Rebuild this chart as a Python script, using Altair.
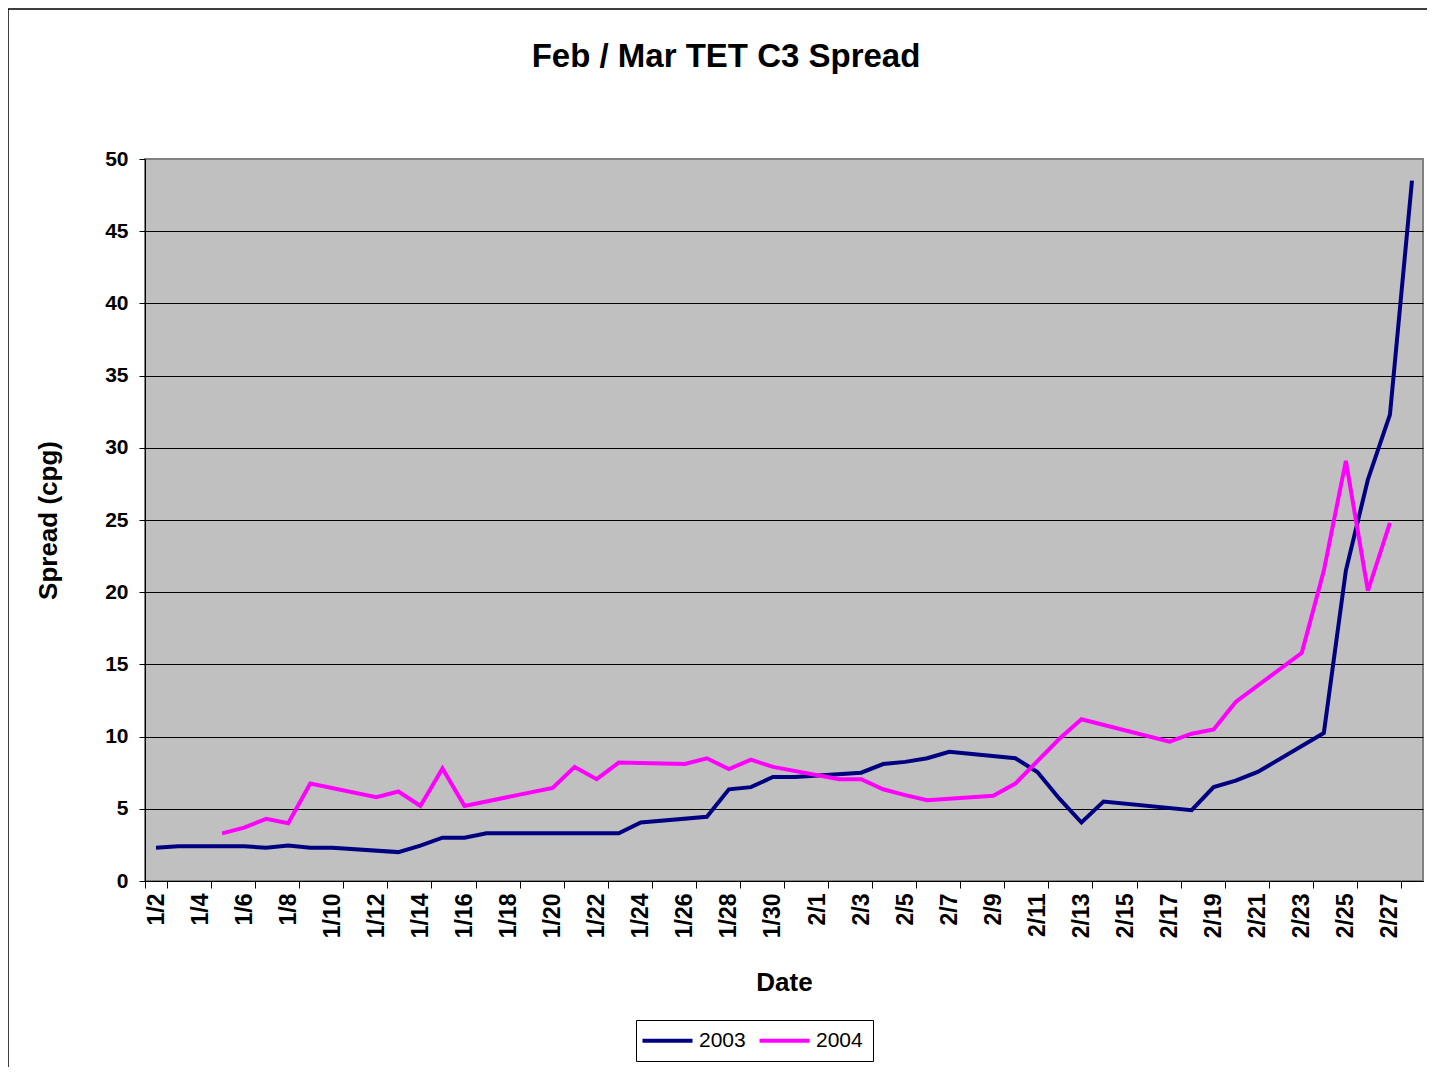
import altair as alt
import pandas as pd

# Category axis: every calendar day shown on the Excel date axis
categories = [
    "1/2", "1/3", "1/4", "1/5", "1/6", "1/7", "1/8", "1/9", "1/10", "1/11",
    "1/12", "1/13", "1/14", "1/15", "1/16", "1/17", "1/18", "1/19", "1/20", "1/21",
    "1/22", "1/23", "1/24", "1/25", "1/26", "1/27", "1/28", "1/29", "1/30", "1/31",
    "2/1", "2/2", "2/3", "2/4", "2/5", "2/6", "2/7", "2/8", "2/9", "2/10",
    "2/11", "2/12", "2/13", "2/14", "2/15", "2/16", "2/17", "2/18", "2/19", "2/20",
    "2/21", "2/22", "2/23", "2/24", "2/25", "2/26", "2/27", "2/28",
]
tick_labels = categories[::2]

dates_2003 = [
    "1/2", "1/3", "1/6", "1/7", "1/8", "1/9", "1/10", "1/13", "1/14", "1/15",
    "1/16", "1/17", "1/21", "1/22", "1/23", "1/24", "1/27", "1/28", "1/29", "1/30",
    "1/31", "2/3", "2/4", "2/5", "2/6", "2/7", "2/10", "2/11", "2/12", "2/13",
    "2/14", "2/18", "2/19", "2/20", "2/21", "2/24", "2/25", "2/26", "2/27", "2/28",
]
values_2003 = [
    2.3, 2.4, 2.4, 2.3, 2.45, 2.3, 2.3, 2.0, 2.45, 3.0,
    3.0, 3.3, 3.3, 3.3, 3.3, 4.05, 4.45, 6.35, 6.5, 7.2,
    7.2, 7.5, 8.1, 8.25, 8.5, 8.95, 8.5, 7.55, 5.7, 4.05,
    5.5, 4.9, 6.5, 6.95, 7.55, 10.25, 21.5, 27.8, 32.3, 48.5,
]

dates_2004 = [
    "1/5", "1/6", "1/7", "1/8", "1/9", "1/12", "1/13", "1/14", "1/15", "1/16",
    "1/20", "1/21", "1/22", "1/23", "1/26", "1/27", "1/28", "1/29", "1/30", "2/2",
    "2/3", "2/4", "2/5", "2/6", "2/9", "2/10", "2/11", "2/12", "2/13", "2/17",
    "2/18", "2/19", "2/20", "2/23", "2/24", "2/25", "2/26", "2/27",
]
values_2004 = [
    3.3, 3.7, 4.3, 4.0, 6.75, 5.8, 6.2, 5.2, 7.8, 5.2,
    6.45, 7.9, 7.05, 8.2, 8.1, 8.5, 7.75, 8.4, 7.9, 7.05,
    7.05, 6.35, 5.95, 5.6, 5.9, 6.75, 8.3, 9.85, 11.2, 9.65,
    10.2, 10.5, 12.4, 15.8, 21.5, 29.1, 20.1, 24.8,
]

series_names = ["2003", "2004"]
series_colors = ["#000080", "#FF00FF"]
chart_title = "Feb / Mar TET C3 Spread"

rows = []
for d, v in zip(dates_2003, values_2003):
    rows.append({"date": d, "value": v, "series": "2003", "order": categories.index(d)})
for d, v in zip(dates_2004, values_2004):
    rows.append({"date": d, "value": v, "series": "2004", "order": categories.index(d)})
df = pd.DataFrame(rows)

FONT = "Liberation Sans"

lines = alt.Chart(df).mark_line(strokeWidth=4, strokeJoin="miter").encode(
    x=alt.X(
        "date:N",
        sort=categories,
        bandPosition=0.5,
        scale=alt.Scale(type="band", domain=categories, paddingInner=0, paddingOuter=0),
        axis=alt.Axis(
            values=tick_labels,
            tickBand="extent",
            labelAngle=-90,
            labelFont=FONT,
            labelFontSize=23,
            labelFontWeight="bold",
            labelColor="black",
            labelPadding=5,
            tickColor="black",
            tickSize=7,
            domainColor="black",
            domainWidth=1,
            grid=False,
            title="Date",
            titleFont=FONT,
            titleFontSize=26,
            titleFontWeight="bold",
            titleColor="black",
            titleY=109,
            titleBaseline="alphabetic",
        ),
    ),
    y=alt.Y(
        "value:Q",
        scale=alt.Scale(domain=[0, 50], nice=False),
        axis=alt.Axis(
            values=list(range(0, 51, 5)),
            grid=True,
            gridColor={"condition": {"test": "datum.value == 50", "value": "#808080"}, "value": "black"},
            gridWidth=1,
            tickColor="black",
            tickSize=6,
            domainColor="black",
            domainWidth=1,
            labelFont=FONT,
            labelFontSize=21,
            labelFontWeight="bold",
            labelColor="black",
            labelPadding=11,
            title="Spread (cpg)",
            titleFont=FONT,
            titleFontSize=26,
            titleFontWeight="bold",
            titleColor="black",
            titleX=-97,
            titleY=361,
            titleBaseline="middle",
        ),
    ),
    color=alt.Color(
        "series:N",
        scale=alt.Scale(domain=series_names, range=series_colors),
        legend=alt.Legend(
            orient="none",
            legendX=491,
            legendY=861,
            direction="horizontal",
            title=None,
            symbolType="M-2.8,0H7.2",
            symbolSize=100,
            symbolStrokeWidth=4,
            labelFont=FONT,
            labelFontSize=21,
            labelColor="black",
            labelOffset=32,
            columnPadding=5,
            padding=10,
            strokeColor="black",
            fillColor="white",
        ),
    ),
    order=alt.Order("order:Q"),
)

frame = alt.Chart(pd.DataFrame({"k": [0]})).mark_rect(
    fillOpacity=0, stroke="black", strokeWidth=1.5
).encode(
    x=alt.value(-137), x2=alt.value(1500), y=alt.value(-150), y2=alt.value(1100)
)

title = alt.Chart(pd.DataFrame({"t": [chart_title]})).mark_text(
    font=FONT, fontSize=33, fontWeight="bold", color="black",
    align="center", baseline="middle"
).encode(
    text="t:N", x=alt.value(581), y=alt.value(-102)
)

chart = alt.layer(frame, lines, title).properties(
    width=1278,
    height=722,
    padding={"left": 137, "top": 151, "right": 4, "bottom": 186},
    autosize=alt.AutoSizeParams(type="none"),
).configure(
    background="white"
).configure_view(
    fill="#C0C0C0", stroke="#808080", strokeWidth=2
)

chart.save("out.html", embed_options={"renderer": "svg", "actions": False})
